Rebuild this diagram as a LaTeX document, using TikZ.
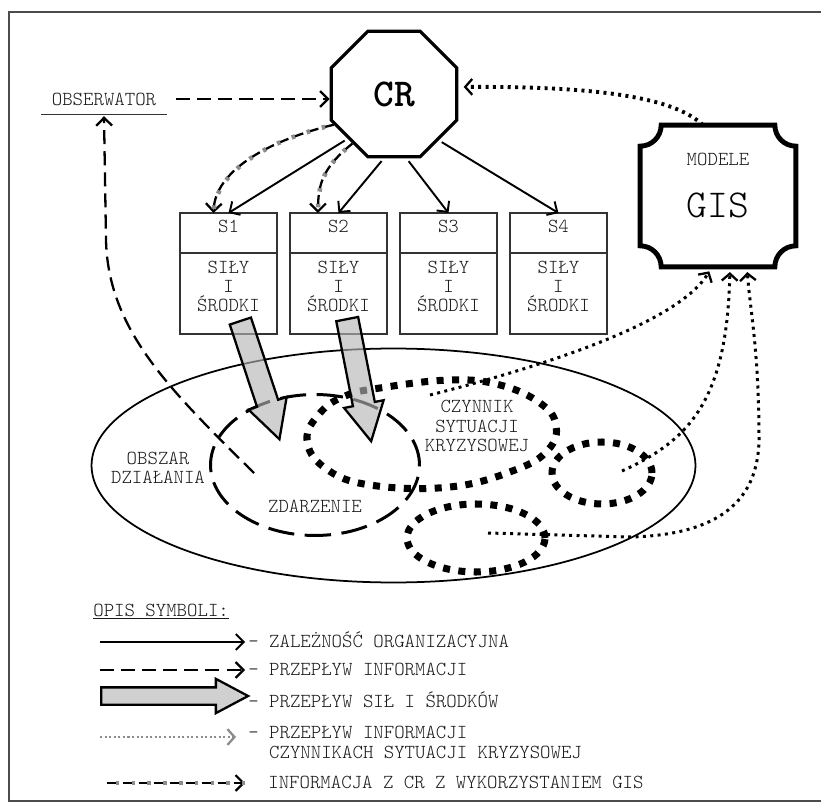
\documentclass[tikz,border=0pt]{standalone}
\usepackage{fontspec}
\setmainfont{Latin Modern Mono Light}
\usepackage{tikz}
\usetikzlibrary{arrows.meta, positioning, shapes.geometric, shapes.arrows}

\newcommand{\opisfont}{\fontsize{11.3}{11}\selectfont}
\newcommand{\bigfont}{\fontsize{22.5}{26}\selectfont}

\begin{document}
\begin{tikzpicture}[x=0.02cm, y=-0.02cm, node distance=0.26cm,
    every node/.style={align=center, font=\opisfont, text=black!90},
    shead/.style={draw=black!80, line width=0.7pt, rectangle, minimum width=1.94cm, minimum height=0.8cm, inner sep=0pt, outer sep=0pt, text depth=0.26cm},
    sbody/.style={draw=black!80, line width=0.7pt, rectangle, minimum width=1.94cm, minimum height=1.62cm, inner sep=0pt, outer sep=0pt, text depth=0.28cm},
    zalez/.style={line width=1.1pt, -{Straight Barb[length=4.5pt, width=9pt]}, shorten <=2pt},
    info/.style={line width=1.3pt, dash pattern=on 8pt off 4pt, -{Straight Barb[length=4.5pt, width=9pt]}},
    gisinfo/.style={line width=1.3pt, dash pattern=on 6pt off 3pt, -{Straight Barb[length=4.5pt, width=9pt]},
        postaction={draw=black!45, -, line width=2.6pt, dash pattern=on 2pt off 7pt, dash phase=4pt}},
    kinfo/.style={line width=1.7pt, dash pattern=on 1.7pt off 2.5pt, shorten >=3pt,
        -{Straight Barb[length=4pt, width=9pt, line width=1.3pt]}},
    kryzys/.style={line width=4pt, dash pattern=on 4pt off 4.8pt},
    sila/.style={single arrow, draw, line width=1.3pt, fill=black!29, fill opacity=0.63, draw opacity=1,
        single arrow head extend=0.18cm, single arrow tip angle=56, inner xsep=0pt, inner ysep=0.2cm}]

    \useasboundingbox (0,0) rectangle (821,803);
    \draw[black!70, line width=1.2pt] (821,12) -- (9,12) -- (9,801) -- (821,801);

    % area, event and crisis factors
    \node (obszar) [draw, ellipse, line width=1pt, minimum width=12.08cm, minimum height=4.68cm] at (393.5,465.5) {};
    \node (obszartxt) at (158,468) {OBSZAR\\DZIAŁANIA};
    \node (zd) [draw, ellipse, line width=1.7pt, dash pattern=on 15pt off 6pt, minimum width=4.18cm, minimum height=2.82cm] at (315,465) {};
    \node (zdtxt) at ([yshift=-0.82cm]zd.center) {ZDARZENIE};
    \draw[kryzys] plot[smooth cycle, tension=0.7] coordinates {(307,440) (320,413) (345,396) (380,388) (450,380) (500,385) (540,403) (556,425) (548,450) (515,470) (450,487) (370,485) (325,468)};
    \node (kryz2) [kryzys, draw, ellipse, minimum width=2.0cm, minimum height=1.24cm] at (602,473) {};
    \node (kryz3) [kryzys, draw, ellipse, minimum width=2.76cm, minimum height=1.36cm] at (476,538) {};
    \node (czynnik) at (477,426) {CZYNNIK\\SYTUACJI\\KRYZYSOWEJ};

    % CR, observer, GIS
    \node (cr) [regular polygon, regular polygon sides=8, draw, line width=1.8pt, minimum size=2.72cm, inner sep=0pt, font=\bigfont\bfseries, text=black] at (394,94) {CR};
    \node (obs) [minimum width=2.5cm, inner sep=0pt] at (104,99) {OBSERWATOR};
    \draw[black!80, line width=0.8pt] ([yshift=-5pt]obs.south west) -- ([yshift=-5pt]obs.south east);

    \node (gis) [minimum width=3.1cm, minimum height=2.82cm] at (718,196) {};
    \draw[line width=2.8pt] ([xshift=0.42cm]gis.north west) -- ([xshift=-0.42cm]gis.north east)
        arc[start angle=180, end angle=270, radius=0.42cm] -- ([yshift=0.42cm]gis.south east)
        arc[start angle=90, end angle=180, radius=0.42cm] -- ([xshift=0.42cm]gis.south west)
        arc[start angle=0, end angle=90, radius=0.42cm] -- ([yshift=-0.42cm]gis.north west)
        arc[start angle=-90, end angle=0, radius=0.42cm] -- cycle;
    \node (modele) at ([yshift=0.74cm]gis.center) {MODELE};
    \node (gisnapis) [font=\bigfont, text=black] at ([yshift=-0.18cm]gis.center) {GIS};

    % S1 - S4
    \node (s1) [shead] at (228.5,233) {S1};
    \node (s1b) [sbody, below=0pt of s1] {SIŁY\\I\\ŚRODKI};
    \node (s2) [shead, right=of s1] {S2};
    \node (s2b) [sbody, below=0pt of s2] {SIŁY\\I\\ŚRODKI};
    \node (s3) [shead, right=of s2] {S3};
    \node (s3b) [sbody, below=0pt of s3] {SIŁY\\I\\ŚRODKI};
    \node (s4) [shead, right=of s3] {S4};
    \node (s4b) [sbody, below=0pt of s4] {SIŁY\\I\\ŚRODKI};

    \draw[zalez] (cr.224) -- (s1.north);
    \draw[zalez] (cr.261) -- (s2.north);
    \draw[zalez] (cr.281) -- (s3.north);
    \draw[zalez] (cr.314) -- (s4.north);
    \draw[gisinfo] (cr.207) .. controls (270,140) and (215,170) .. ([xshift=-0.3cm]s1.north);
    \draw[gisinfo] (cr.230) .. controls (322,168) and (318,185) .. ([xshift=-0.41cm]s2.north);

    \draw[info, shorten <=5pt] (obs.east) -- (obs.east -| cr.west);
    \draw[info] ([shift={(-1.22cm,-0.16cm)}]zd.center) .. controls (170,390) and (108,330) .. (106,240) -- ([yshift=-6pt]obs.south);

    % information about crisis factors
    \coordinate (k1) at (430,395);
    \coordinate (k2) at (622,471);
    \coordinate (k3) at (488,533);
    \draw[kinfo] (k1) .. controls (560,362) and (680,320) .. ([xshift=-0.12cm]gis.south);
    \draw[kinfo] (k2) .. controls (690,440) and (727,400) .. ([xshift=0.24cm]gis.south);
    \draw[kinfo] (k3) -- (630,537) .. controls (720,535) and (758,500) .. (759,440) .. controls (759,350) and (750,310) .. ([xshift=0.58cm]gis.south);
    \draw[kinfo, line width=2.2pt] ([xshift=-0.3cm]gis.north) .. controls (675,98) and (600,86) .. ([yshift=0.14cm]cr.east);

    % forces and resources
    \node (sila1) [sila, minimum height=2.49cm, rotate=-71.7, anchor=tail] at ([shift={(0.23cm,0.28cm)}]s1b.south) {};
    \node (sila2) [sila, minimum height=2.49cm, rotate=-78.9, anchor=tail] at ([shift={(0.17cm,0.32cm)}]s2b.south) {};

    % legend
    \node (opis) [anchor=base west, inner sep=0pt] at (93,616) {\underline{OPIS SYMBOLI:}};
    \coordinate (l1) at (100,642);
    \coordinate (l1e) at (245,642);
    \draw[zalez, shorten <=0pt] (l1) -- (l1e);
    \node (t1) [anchor=base west, inner sep=0pt] at (248,647) {- ZALEŻNOŚĆ ORGANIZACYJNA};
    \coordinate (l2) at (100,670);
    \coordinate (l2e) at (245,670);
    \draw[info] (l2) -- (l2e);
    \node (t2) [anchor=base west, inner sep=0pt] at (248,675) {- PRZEPŁYW INFORMACJI};
    \node (sila0) [sila, minimum height=2.94cm, inner ysep=0.15cm, single arrow head extend=0.17cm, anchor=tail] at (100,696) {};
    \node (t3) [anchor=base west, inner sep=0pt] at (248,707) {- PRZEPŁYW SIŁ I ŚRODKÓW};
    \coordinate (l4) at (100,737);
    \coordinate (l4e) at (236,737);
    \draw[kinfo, draw=black!45, shorten >=0pt, line width=1.2pt, dash pattern=on 1.2pt off 1.4pt] (l4) -- (l4e);
    \node (t4) [anchor=west, align=left, inner sep=0pt] at (248,742.5) {- PRZEPŁYW INFORMACJI\\\ \ CZYNNIKACH SYTUACJI KRYZYSOWEJ};
    \coordinate (l5) at (107,783);
    \coordinate (l5e) at (245,783);
    \draw[gisinfo] (l5) -- (l5e);
    \node (t5) [anchor=base west, inner sep=0pt] at (268,788) {INFORMACJA Z CR Z WYKORZYSTANIEM GIS};
\end{tikzpicture}
\end{document}
